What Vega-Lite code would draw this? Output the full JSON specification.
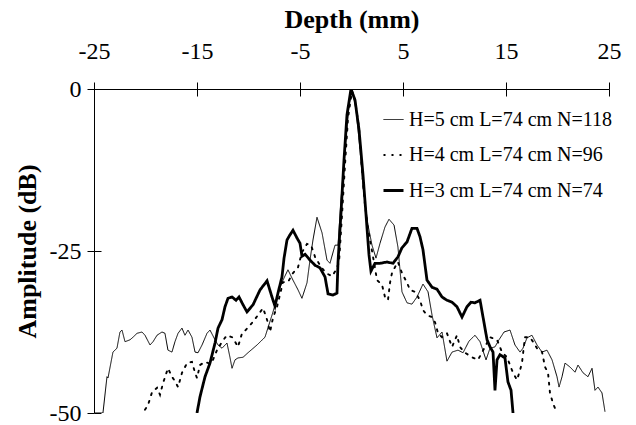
{
  "$schema": "https://vega.github.io/schema/vega-lite/v6.json",
  "width": 515,
  "height": 324,
  "autosize": {"type": "none"},
  "padding": {"left": 94, "top": 89, "right": 27, "bottom": 12},
  "background": "white",
  "config": {
    "view": {"stroke": null},
    "font": "Liberation Serif",
    "axis": {"domainColor": "black", "tickColor": "black", "labelColor": "black", "titleColor": "black", "grid": false, "domainWidth": 1, "tickWidth": 1},
    "legend": {"labelColor": "black", "labelFont": "Liberation Serif"}
  },
  "resolve": {"axis": {"x": "independent", "y": "independent"}},
  "datasets": {
    "h5": [
      {"x": -25.0, "y": -50.0}, {"x": -24.13, "y": -50.0}, {"x": -23.74, "y": -44.4}, {"x": -23.64, "y": -44.6}, {"x": -23.16, "y": -40.6}, {"x": -22.77, "y": -40.0}, {"x": -22.48, "y": -37.5}, {"x": -22.28, "y": -37.2}, {"x": -21.99, "y": -39.0}, {"x": -21.5, "y": -38.7}, {"x": -21.21, "y": -38.3}, {"x": -20.82, "y": -37.7}, {"x": -20.34, "y": -37.5}, {"x": -20.05, "y": -38.0}, {"x": -19.56, "y": -39.5}, {"x": -19.27, "y": -39.0}, {"x": -18.88, "y": -38.0}, {"x": -18.4, "y": -37.5}, {"x": -18.11, "y": -37.7}, {"x": -17.82, "y": -40.3}, {"x": -17.43, "y": -40.6}, {"x": -17.14, "y": -39.0}, {"x": -16.84, "y": -37.7}, {"x": -16.46, "y": -36.9}, {"x": -16.17, "y": -38.0}, {"x": -15.87, "y": -37.2}, {"x": -15.49, "y": -38.3}, {"x": -15.19, "y": -40.6}, {"x": -14.9, "y": -40.7}, {"x": -14.51, "y": -39.5}, {"x": -14.03, "y": -37.7}, {"x": -13.74, "y": -37.2}, {"x": -13.25, "y": -38.7}, {"x": -12.96, "y": -39.5}, {"x": -12.57, "y": -40.0}, {"x": -12.09, "y": -39.2}, {"x": -11.8, "y": -41.4}, {"x": -11.6, "y": -43.1}, {"x": -11.31, "y": -41.8}, {"x": -11.02, "y": -41.5}, {"x": -10.53, "y": -41.4}, {"x": -10.05, "y": -40.7}, {"x": -9.17, "y": -39.5}, {"x": -8.4, "y": -38.3}, {"x": -7.62, "y": -34.4}, {"x": -6.94, "y": -30.6}, {"x": -6.65, "y": -29.5}, {"x": -6.17, "y": -27.9}, {"x": -5.68, "y": -29.5}, {"x": -5.19, "y": -31.0}, {"x": -4.81, "y": -32.3}, {"x": -4.32, "y": -29.9}, {"x": -4.03, "y": -26.4}, {"x": -3.74, "y": -23.3}, {"x": -3.35, "y": -19.8}, {"x": -2.86, "y": -22.2}, {"x": -2.38, "y": -26.4}, {"x": -2.09, "y": -26.9}, {"x": -1.6, "y": -24.1}, {"x": -1.31, "y": -24.1}, {"x": -1.02, "y": -17.1}, {"x": -0.63, "y": -9.4}, {"x": -0.24, "y": -2.5}, {"x": 0.05, "y": 0.0}, {"x": 0.44, "y": -3.2}, {"x": 0.83, "y": -9.4}, {"x": 1.12, "y": -15.1}, {"x": 1.6, "y": -21.0}, {"x": 1.99, "y": -24.1}, {"x": 2.38, "y": -26.1}, {"x": 2.77, "y": -23.8}, {"x": 3.25, "y": -21.3}, {"x": 3.64, "y": -20.1}, {"x": 4.13, "y": -21.0}, {"x": 4.51, "y": -24.4}, {"x": 4.9, "y": -31.3}, {"x": 5.39, "y": -33.0}, {"x": 5.87, "y": -33.2}, {"x": 6.36, "y": -32.1}, {"x": 6.94, "y": -30.1}, {"x": 7.43, "y": -31.3}, {"x": 7.82, "y": -34.9}, {"x": 8.3, "y": -38.4}, {"x": 8.79, "y": -37.5}, {"x": 9.27, "y": -42.0}, {"x": 9.76, "y": -40.6}, {"x": 10.34, "y": -40.3}, {"x": 10.83, "y": -40.7}, {"x": 11.41, "y": -38.9}, {"x": 11.99, "y": -38.0}, {"x": 12.48, "y": -39.0}, {"x": 13.06, "y": -41.8}, {"x": 13.45, "y": -40.0}, {"x": 13.93, "y": -39.8}, {"x": 14.32, "y": -38.7}, {"x": 14.81, "y": -37.5}, {"x": 15.39, "y": -37.2}, {"x": 15.87, "y": -39.5}, {"x": 16.36, "y": -40.6}, {"x": 16.65, "y": -40.0}, {"x": 17.04, "y": -38.4}, {"x": 17.52, "y": -38.0}, {"x": 18.01, "y": -39.5}, {"x": 18.5, "y": -40.6}, {"x": 18.98, "y": -40.3}, {"x": 19.47, "y": -41.8}, {"x": 19.95, "y": -44.4}, {"x": 20.15, "y": -46.0}, {"x": 20.44, "y": -44.4}, {"x": 20.73, "y": -42.3}, {"x": 21.21, "y": -42.9}, {"x": 21.7, "y": -43.7}, {"x": 21.99, "y": -42.6}, {"x": 22.48, "y": -43.8}, {"x": 22.96, "y": -44.4}, {"x": 23.35, "y": -43.1}, {"x": 23.64, "y": -46.5}, {"x": 23.93, "y": -46.0}, {"x": 24.32, "y": -46.9}, {"x": 24.61, "y": -49.8}
    ],
    "h4": [
      {"x": -20.05, "y": -49.5}, {"x": -19.76, "y": -48.8}, {"x": -19.37, "y": -46.8}, {"x": -18.88, "y": -46.1}, {"x": -18.59, "y": -47.2}, {"x": -18.3, "y": -45.4}, {"x": -17.82, "y": -43.1}, {"x": -17.43, "y": -44.4}, {"x": -17.14, "y": -45.1}, {"x": -16.84, "y": -46.0}, {"x": -16.46, "y": -43.8}, {"x": -15.97, "y": -42.3}, {"x": -15.49, "y": -42.1}, {"x": -15.19, "y": -43.8}, {"x": -15.0, "y": -44.6}, {"x": -14.71, "y": -42.6}, {"x": -14.22, "y": -42.1}, {"x": -13.74, "y": -42.4}, {"x": -13.45, "y": -41.8}, {"x": -13.06, "y": -40.3}, {"x": -12.57, "y": -39.0}, {"x": -12.09, "y": -38.0}, {"x": -11.6, "y": -38.3}, {"x": -11.31, "y": -39.0}, {"x": -11.02, "y": -39.8}, {"x": -10.63, "y": -37.7}, {"x": -10.34, "y": -37.3}, {"x": -9.66, "y": -36.1}, {"x": -9.08, "y": -34.9}, {"x": -8.59, "y": -33.8}, {"x": -8.2, "y": -35.6}, {"x": -7.91, "y": -37.5}, {"x": -7.62, "y": -35.3}, {"x": -7.23, "y": -33.6}, {"x": -6.65, "y": -29.8}, {"x": -6.17, "y": -29.8}, {"x": -5.68, "y": -28.4}, {"x": -5.19, "y": -27.5}, {"x": -4.81, "y": -25.2}, {"x": -4.32, "y": -23.9}, {"x": -3.93, "y": -24.1}, {"x": -3.54, "y": -25.9}, {"x": -3.06, "y": -27.2}, {"x": -2.48, "y": -28.4}, {"x": -1.89, "y": -28.9}, {"x": -1.5, "y": -27.9}, {"x": -1.21, "y": -26.7}, {"x": -0.92, "y": -19.4}, {"x": -0.63, "y": -11.7}, {"x": -0.34, "y": -4.5}, {"x": 0.05, "y": -0.3}, {"x": 0.34, "y": -1.7}, {"x": 0.73, "y": -6.0}, {"x": 1.02, "y": -12.5}, {"x": 1.31, "y": -17.9}, {"x": 1.6, "y": -21.5}, {"x": 1.89, "y": -24.1}, {"x": 2.18, "y": -26.7}, {"x": 2.48, "y": -29.5}, {"x": 2.96, "y": -30.2}, {"x": 3.25, "y": -32.1}, {"x": 3.54, "y": -32.6}, {"x": 3.74, "y": -29.9}, {"x": 3.93, "y": -28.4}, {"x": 4.22, "y": -27.5}, {"x": 4.51, "y": -26.7}, {"x": 4.9, "y": -28.4}, {"x": 5.39, "y": -29.9}, {"x": 5.68, "y": -31.0}, {"x": 6.17, "y": -31.3}, {"x": 6.65, "y": -32.6}, {"x": 6.94, "y": -34.1}, {"x": 7.33, "y": -34.9}, {"x": 7.82, "y": -35.2}, {"x": 8.11, "y": -36.0}, {"x": 8.4, "y": -37.7}, {"x": 8.79, "y": -38.3}, {"x": 9.27, "y": -37.7}, {"x": 9.76, "y": -39.8}, {"x": 10.24, "y": -38.0}, {"x": 10.53, "y": -39.8}, {"x": 11.02, "y": -40.7}, {"x": 11.7, "y": -41.4}, {"x": 12.28, "y": -41.8}, {"x": 12.96, "y": -39.8}, {"x": 13.45, "y": -38.3}, {"x": 14.13, "y": -38.7}, {"x": 14.61, "y": -40.6}, {"x": 15.1, "y": -41.4}, {"x": 15.39, "y": -42.6}, {"x": 15.68, "y": -43.8}, {"x": 16.07, "y": -44.9}, {"x": 16.36, "y": -43.4}, {"x": 16.55, "y": -42.3}, {"x": 16.84, "y": -38.3}, {"x": 17.33, "y": -38.3}, {"x": 17.62, "y": -39.0}, {"x": 18.01, "y": -40.0}, {"x": 18.5, "y": -40.6}, {"x": 18.79, "y": -42.9}, {"x": 19.08, "y": -43.8}, {"x": 19.27, "y": -46.9}, {"x": 19.56, "y": -48.5}, {"x": 19.95, "y": -50.0}
    ],
    "h3": [
      {"x": -15.0, "y": -50.0}, {"x": -14.71, "y": -47.5}, {"x": -14.22, "y": -44.4}, {"x": -13.74, "y": -42.3}, {"x": -13.25, "y": -39.2}, {"x": -12.96, "y": -36.9}, {"x": -12.57, "y": -35.6}, {"x": -12.28, "y": -33.6}, {"x": -11.99, "y": -32.3}, {"x": -11.6, "y": -32.1}, {"x": -11.21, "y": -32.6}, {"x": -10.92, "y": -32.1}, {"x": -10.53, "y": -33.3}, {"x": -10.15, "y": -34.4}, {"x": -9.56, "y": -33.3}, {"x": -8.88, "y": -31.0}, {"x": -8.2, "y": -29.6}, {"x": -7.72, "y": -32.1}, {"x": -7.43, "y": -33.5}, {"x": -7.14, "y": -31.5}, {"x": -6.75, "y": -29.0}, {"x": -6.55, "y": -26.1}, {"x": -6.26, "y": -23.3}, {"x": -5.97, "y": -22.5}, {"x": -5.68, "y": -21.8}, {"x": -5.29, "y": -23.0}, {"x": -5.0, "y": -23.8}, {"x": -4.81, "y": -25.8}, {"x": -4.51, "y": -25.5}, {"x": -4.03, "y": -26.4}, {"x": -3.54, "y": -27.2}, {"x": -3.06, "y": -27.6}, {"x": -2.57, "y": -29.0}, {"x": -2.28, "y": -31.6}, {"x": -1.8, "y": -31.8}, {"x": -1.41, "y": -31.5}, {"x": -1.31, "y": -26.7}, {"x": -1.02, "y": -19.1}, {"x": -0.73, "y": -11.0}, {"x": -0.44, "y": -4.0}, {"x": -0.05, "y": 0.0}, {"x": 0.34, "y": -1.7}, {"x": 0.73, "y": -6.3}, {"x": 1.12, "y": -13.3}, {"x": 1.41, "y": -19.4}, {"x": 1.7, "y": -25.6}, {"x": 1.89, "y": -28.1}, {"x": 2.28, "y": -26.9}, {"x": 2.77, "y": -26.9}, {"x": 3.45, "y": -26.7}, {"x": 4.03, "y": -26.9}, {"x": 4.51, "y": -25.9}, {"x": 4.9, "y": -24.5}, {"x": 5.39, "y": -23.6}, {"x": 5.87, "y": -21.5}, {"x": 6.36, "y": -21.5}, {"x": 6.65, "y": -22.8}, {"x": 6.94, "y": -24.8}, {"x": 7.33, "y": -29.5}, {"x": 7.82, "y": -30.6}, {"x": 8.3, "y": -30.9}, {"x": 8.79, "y": -32.1}, {"x": 9.27, "y": -32.6}, {"x": 9.76, "y": -32.9}, {"x": 10.24, "y": -33.6}, {"x": 10.73, "y": -35.2}, {"x": 11.21, "y": -33.6}, {"x": 11.6, "y": -32.9}, {"x": 11.99, "y": -33.0}, {"x": 12.48, "y": -32.6}, {"x": 12.77, "y": -35.2}, {"x": 13.16, "y": -38.7}, {"x": 13.45, "y": -39.8}, {"x": 13.74, "y": -40.6}, {"x": 13.93, "y": -46.5}, {"x": 14.13, "y": -41.8}, {"x": 14.42, "y": -41.0}, {"x": 14.9, "y": -41.5}, {"x": 15.19, "y": -45.2}, {"x": 15.49, "y": -46.5}, {"x": 15.68, "y": -50.0}
    ]
  },
  "layer": [
    {
      "data": {"name": "h5"},
      "mark": {"type": "line", "color": "black", "clip": true},
      "encoding": {
        "x": {"field": "x", "type": "quantitative", "scale": {"domain": [-25, 25], "nice": false}, "axis": {"orient": "top", "title": "Depth (mm)", "values": [-25, -15, -5, 5, 15, 25], "labelExpr": "'' + datum.value", "tickSize": 7, "labelPadding": 19, "labelFontSize": 24, "titleFontSize": 26, "titleFontWeight": "bold", "titlePadding": 7, "labelFlush": false}},
        "y": {"field": "y", "type": "quantitative", "scale": {"domain": [-50, 0], "nice": false}, "axis": {"title": "Amplitude (dB)", "values": [0, -25, -50], "labelExpr": "'' + datum.value", "tickSize": 7, "labelPadding": 6, "labelFontSize": 24, "titleFontSize": 26, "titleFontWeight": "bold", "titlePadding": 9}},
        "order": {"field": "x", "type": "quantitative"},
        "strokeDash": {"datum": "H=5 cm L=74 cm N=118", "type": "nominal",
          "scale": {"domain": ["H=5 cm L=74 cm N=118", "H=4 cm L=74 cm N=96", "H=3 cm L=74 cm N=74"], "range": [[1, 0], [2, 6], [1, 0]]},
          "legend": {"title": null, "orient": "none", "legendX": 288, "legendY": 20, "symbolType": "stroke", "symbolSize": 400, "symbolStrokeColor": "black", "labelFontSize": 20, "rowPadding": 14, "labelOffset": 4, "labelLimit": 400,
            "encode": {"symbols": {"update": {"strokeWidth": {"signal": "indexof(datum.value, 'N=118') >= 0 ? 1.2 : 2.8"}, "stroke": {"value": "black"}}}}}},
        "strokeWidth": {"datum": "H=5 cm L=74 cm N=118", "type": "nominal",
          "scale": {"domain": ["H=5 cm L=74 cm N=118", "H=4 cm L=74 cm N=96", "H=3 cm L=74 cm N=74"], "range": [1, 2.8, 2.5]}, "legend": null}
      }
    },
    {
      "data": {"name": "h4"},
      "mark": {"type": "line", "color": "black", "clip": true, "strokeCap": "round"},
      "encoding": {
        "x": {"field": "x", "type": "quantitative", "axis": {"orient": "bottom", "offset": -324, "values": [-25, -15, -5, 5, 15, 25], "labels": false, "domain": false, "title": null, "tickSize": 7}},
        "y": {"field": "y", "type": "quantitative", "axis": {"orient": "right", "offset": -515, "values": [0, -25, -50], "labels": false, "domain": false, "title": null, "tickSize": 7}},
        "order": {"field": "x", "type": "quantitative"},
        "strokeDash": {"datum": "H=4 cm L=74 cm N=96", "type": "nominal"},
        "strokeWidth": {"datum": "H=4 cm L=74 cm N=96", "type": "nominal"}
      }
    },
    {
      "data": {"name": "h3"},
      "mark": {"type": "line", "color": "black", "clip": true},
      "encoding": {
        "x": {"field": "x", "type": "quantitative", "axis": null},
        "y": {"field": "y", "type": "quantitative", "axis": null},
        "order": {"field": "x", "type": "quantitative"},
        "strokeDash": {"datum": "H=3 cm L=74 cm N=74", "type": "nominal"},
        "strokeWidth": {"datum": "H=3 cm L=74 cm N=74", "type": "nominal"}
      }
    }
  ]
}
